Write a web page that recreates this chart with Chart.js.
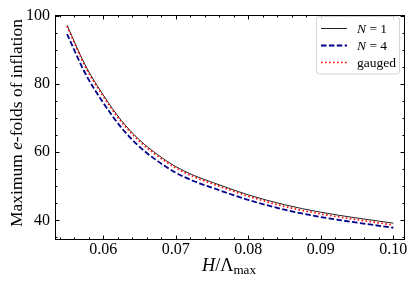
<!DOCTYPE html>
<html><head><meta charset="utf-8">
<script src="https://cdn.jsdelivr.net/npm/chart.js@4.4.0/dist/chart.umd.min.js"></script>
<style>html,body{margin:0;padding:0;background:#fff}#wrap{width:415px;height:287px}</style>
</head><body><div id="wrap"><canvas id="c" width="415" height="287"></canvas></div>
<script>
const H_VALUES = [0.055, 0.0575, 0.06, 0.0625, 0.065, 0.0675, 0.07, 0.0725, 0.075, 0.0775, 0.08, 0.085, 0.09, 0.095, 0.10];
const N1_VALUES = [97.3, 85.6, 76.8, 69.3, 63.6, 59.3, 55.8, 53.2, 51.2, 49.3, 47.5, 44.6, 42.4, 40.7, 39.2];
const N4_VALUES = [94.7, 83.2, 74.5, 67.2, 61.6, 57.4, 54.0, 51.5, 49.6, 47.75, 46.0, 43.15, 41.0, 39.35, 37.85];
const GAUGED_VALUES = [97.0, 85.2, 76.4, 68.9, 63.2, 58.9, 55.4, 52.8, 50.8, 48.9, 47.1, 44.1, 41.9, 40.2, 38.65];
const X_TICKS = [0.06, 0.07, 0.08, 0.09, 0.10];
const Y_TICKS = [40, 60, 80, 100];
const FONT = '"Liberation Serif", "DejaVu Serif", serif';

const pts = ys => H_VALUES.map((h, i) => ({x: h, y: ys[i]}));

function fitFont(ctx, parts, target, base) {
  let w = 0;
  parts.forEach(p => { ctx.font = (p.it ? 'italic ' : '') + (base * (p.sc || 1)) + 'px ' + FONT; w += ctx.measureText(p.t).width; });
  return base * target / w;
}

const deco = {
  id: 'deco',
  afterDraw(chart) {
    const ctx = chart.ctx, a = chart.chartArea, xs = chart.scales.x, ys = chart.scales.y;
    ctx.save();
    const L = Math.round(a.left) + 0.5, R = Math.round(a.right) - 0.5, T = Math.round(a.top) + 0.5, B = Math.round(a.bottom) - 0.5;
    ctx.strokeStyle = '#000'; ctx.lineWidth = 1; ctx.setLineDash([]);
    ctx.strokeRect(L, T, R - L, B - T);
    const seg = (x1, y1, x2, y2) => { ctx.beginPath(); ctx.moveTo(x1, y1); ctx.lineTo(x2, y2); ctx.stroke(); };
    for (let i = 27; i <= 50; i++) {
      const v = i * 0.002;
      const px = Math.round(xs.getPixelForValue(v)) + 0.5;
      const len = i % 5 === 0 ? 4 : 2;
      seg(px, B, px, B - len); seg(px, T, px, T + len);
    }
    for (let v = 35; v <= 100; v += 5) {
      const py = Math.round(ys.getPixelForValue(v)) + 0.5;
      const len = v % 20 === 0 ? 4 : 2;
      seg(L, py, L + len, py); seg(R, py, R - len, py);
    }
    // legend
    ctx.beginPath();
    ctx.roundRect(316.5, 16.5, 83, 57.5, 3);
    ctx.fillStyle = 'rgba(255,255,255,0.8)'; ctx.fill();
    ctx.strokeStyle = '#d4d4d4'; ctx.stroke();
    const rows = [
      {y: 28, color: '#222', w: 1, dash: [], label: ['N', ' = 1']},
      {y: 45, color: '#00008b', w: 1.8, dash: [5.5, 2.4], label: ['N', ' = 4']},
      {y: 62, color: '#ff0000', w: 1.6, dash: [1.6, 2.4], label: [null, 'gauged']}
    ];
    const fs = 13.5;
    rows.forEach(r => {
      ctx.strokeStyle = r.color; ctx.lineWidth = r.w; ctx.setLineDash(r.dash);
      seg(321, r.y + 0.5, 347, r.y + 0.5);
      ctx.setLineDash([]);
      ctx.fillStyle = '#000'; ctx.textBaseline = 'middle'; ctx.textAlign = 'left';
      let x = 357;
      if (r.label[0]) {
        ctx.font = 'italic ' + fs + 'px ' + FONT;
        ctx.fillText(r.label[0], x, r.y + 1);
        x += ctx.measureText(r.label[0]).width;
      }
      ctx.font = fs + 'px ' + FONT;
      ctx.fillText(r.label[1], x, r.y + 1);
    });
    // x title
    ctx.fillStyle = '#000'; ctx.textBaseline = 'alphabetic'; ctx.textAlign = 'left';
    const xparts = [{t: 'H', it: true}, {t: '/'}, {t: 'Λ'}, {t: 'max', sc: 0.72, dy: 2.5}];
    const xfs = fitFont(ctx, xparts, 54, 16);
    xparts.forEach(p => { p.f = (p.it ? 'italic ' : '') + (xfs * (p.sc || 1)) + 'px ' + FONT; ctx.font = p.f; p.w = ctx.measureText(p.t).width; });
    let x0 = 202;
    xparts.forEach(p => { ctx.font = p.f; ctx.fillText(p.t, x0, 271 + (p.dy || 0)); x0 += p.w; });
    // y title
    const yparts = [{t: 'Maximum '}, {t: 'e', it: true}, {t: '-folds of inflation'}];
    const yfs = fitFont(ctx, yparts, 208, 16);
    let yw = 0;
    yparts.forEach(p => { p.f = (p.it ? 'italic ' : '') + yfs + 'px ' + FONT; ctx.font = p.f; p.w = ctx.measureText(p.t).width; yw += p.w; });
    ctx.translate(22, 123);
    ctx.rotate(-Math.PI / 2);
    let s = -yw / 2;
    yparts.forEach(p => { ctx.font = p.f; ctx.fillText(p.t, s, 0); s += p.w; });
    ctx.restore();
  }
};

new Chart(document.getElementById('c'), {
  type: 'line',
  data: {
    datasets: [
      {label: 'gauged', data: pts(GAUGED_VALUES), borderColor: '#ff0000', borderWidth: 1.6, borderDash: [1.6, 2.4], pointRadius: 0, cubicInterpolationMode: 'monotone', fill: false},
      {label: 'N = 4', data: pts(N4_VALUES), borderColor: '#00008b', borderWidth: 1.8, borderDash: [5.5, 2.4], pointRadius: 0, cubicInterpolationMode: 'monotone', fill: false},
      {label: 'N = 1', data: pts(N1_VALUES), borderColor: '#222222', borderWidth: 1, pointRadius: 0, cubicInterpolationMode: 'monotone', fill: false}
    ]
  },
  options: {
    responsive: false, devicePixelRatio: 1, animation: false,
    layout: {padding: {top: 12.5, right: 10, left: 0, bottom: 0}},
    plugins: {legend: {display: false}, tooltip: {enabled: false}},
    scales: {
      x: {
        type: 'linear', min: 0.05334, max: 0.10161,
        afterBuildTicks: s => { s.ticks = X_TICKS.map(v => ({value: v})); },
        ticks: {callback: v => Number(v).toFixed(2), font: {family: FONT, size: 16}, color: '#000', padding: 1, maxRotation: 0, autoSkip: false},
        grid: {display: false, drawTicks: false}, border: {display: false},
        afterFit: s => { s.height = 47.5; }
      },
      y: {
        type: 'linear', min: 34.4, max: 100.4,
        afterBuildTicks: s => { s.ticks = Y_TICKS.map(v => ({value: v})); },
        ticks: {callback: v => String(v), font: {family: FONT, size: 16}, color: '#000', padding: 5, autoSkip: false},
        grid: {display: false, drawTicks: false}, border: {display: false},
        afterFit: s => { s.width = 55; }
      }
    }
  },
  plugins: [deco]
});
</script></body></html>
